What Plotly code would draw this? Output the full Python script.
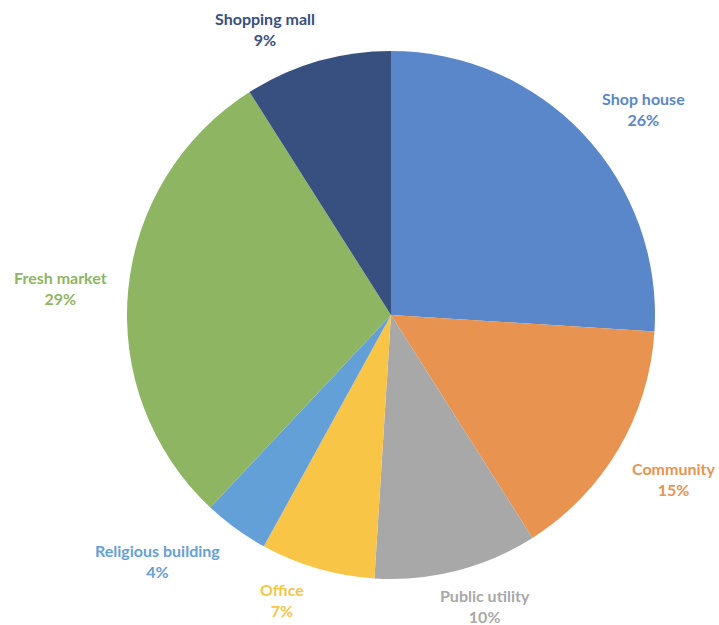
import plotly.graph_objects as go

# Share of sites by building type
categories = ["Shop house", "Community", "Public utility", "Office",
              "Religious building", "Fresh market", "Shopping mall"]
shares = [26, 15, 10, 7, 4, 29, 9]
colors = ["#5A87C9", "#E8934F", "#A8A8A8", "#F8C547",
          "#64A0D8", "#8DB562", "#37507F"]

W, H = 719, 625

# label anchor points (pixels from top-left), one per category
label_xy = {
    "Shop house": (643, 109),
    "Community": (673, 479),
    "Public utility": (485, 606),
    "Office": (282, 600),
    "Religious building": (157, 561),
    "Fresh market": (61, 288),
    "Shopping mall": (265, 29),
}

fig = go.Figure(go.Pie(
    labels=categories,
    values=shares,
    sort=False,
    direction="clockwise",
    rotation=0,
    marker=dict(colors=colors, line=dict(width=0)),
    textinfo="none",
    hoverinfo="label+percent",
    domain=dict(x=[127 / W, 655 / W], y=[1 - 579 / H, 1 - 51 / H]),
    showlegend=False,
))

for cat, val, col in zip(categories, shares, colors):
    px, py = label_xy[cat]
    fig.add_annotation(
        x=px / W, y=1 - py / H, xref="paper", yref="paper",
        text=f"<b>{cat}<br>{val}%</b>", showarrow=False,
        font=dict(family="Lato", size=16, color=col),
        align="center", xanchor="center", yanchor="middle",
    )

fig.update_layout(
    width=W, height=H,
    margin=dict(l=0, r=0, t=0, b=0),
    paper_bgcolor="white", plot_bgcolor="white",
)

fig.write_html("out.html")
